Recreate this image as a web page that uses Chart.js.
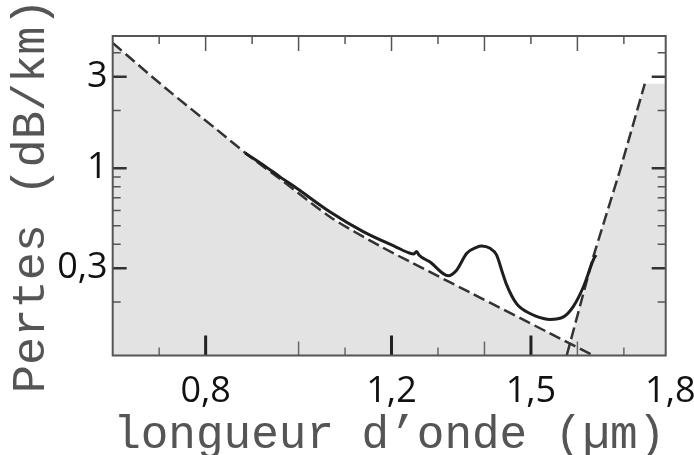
<!DOCTYPE html>
<html><head><meta charset="utf-8">
<script src="https://cdn.jsdelivr.net/npm/chart.js@4.4.0/dist/chart.umd.min.js"></script>
<style>html,body{margin:0;padding:0;background:#fff}#wrap{width:694px;height:455px;position:relative}</style>
</head><body><div id="wrap"><canvas id="c"></canvas></div>
<script>
// ---- data ----
const xTickLabels = [0.8, 1.2, 1.5, 1.8];
const yTickLabels = [0.3, 1, 3];

// Rayleigh scattering limit (dashed)
const rayleighX = [0.6, 0.716, 0.824, 0.896, 0.96, 1.068, 1.175, 1.24, 1.369, 1.541, 1.634];
const rayleighY = [4.51, 2.59, 1.59, 1.146, 0.879, 0.556, 0.392, 0.324, 0.224, 0.137, 0.105];

// Infrared absorption (dashed)
const infraX = [1.577, 1.634, 1.692, 1.745];
const infraY = [0.105, 0.344, 0.98, 2.76];

// Measured fibre loss (solid)
const lossX = [0.885, 0.924, 0.960, 0.996, 1.068, 1.139, 1.211, 1.240, 1.248, 1.254, 1.259, 1.283, 1.322, 1.340, 1.362, 1.383, 1.394, 1.412, 1.426, 1.437, 1.448, 1.469, 1.498, 1.527, 1.541, 1.570, 1.591, 1.613, 1.634, 1.640];
const lossY = [1.2, 1.04, 0.90, 0.785, 0.59, 0.466, 0.386, 0.359, 0.356, 0.367, 0.352, 0.323, 0.274, 0.293, 0.359, 0.386, 0.392, 0.381, 0.352, 0.293, 0.245, 0.196, 0.174, 0.164, 0.162, 0.167, 0.189, 0.240, 0.331, 0.352];

// Inner tick marks
const xBottomMajor = [0.8, 1.2, 1.5];
const xBottomMid = [1.0, 1.4, 1.6];
const xBottomShort = [0.7, 1.1, 1.3, 1.7];
const xTopLong = [0.8, 1.0, 1.2, 1.4, 1.6];
const xTopShort = [0.7, 0.9, 1.1, 1.3, 1.5, 1.7];
const yMajorTicks = [0.3, 1, 3];
const yMinorTicks = [0.2, 0.4, 0.5, 0.6, 0.7, 0.8, 0.9, 2, 4];

const xMin = 0.6, xMax = 1.79, yMin = 0.105, yMax = 4.9;

const pts = (xs, ys) => xs.map((v, i) => ({x: v, y: ys[i]}));
const fmt = v => String(v).replace('.', ',');

const shade = '#e3e3e3';

const innerTicks = {
  id: 'innerTicks',
  afterDraw(chart) {
    const {ctx, chartArea: a, scales: {x, y}} = chart;
    ctx.save();
    const vt = (vals, fromTop, len, w, col) => {
      ctx.lineWidth = w; ctx.strokeStyle = col;
      vals.forEach(v => {
        const px = x.getPixelForValue(v);
        ctx.beginPath();
        if (fromTop) { ctx.moveTo(px, a.top); ctx.lineTo(px, a.top + len); }
        else { ctx.moveTo(px, a.bottom); ctx.lineTo(px, a.bottom - len); }
        ctx.stroke();
      });
    };
    const ht = (vals, len, w, col) => {
      ctx.lineWidth = w; ctx.strokeStyle = col;
      vals.forEach(v => {
        const py = y.getPixelForValue(v);
        ctx.beginPath();
        ctx.moveTo(a.left, py); ctx.lineTo(a.left + len, py);
        ctx.moveTo(a.right, py); ctx.lineTo(a.right - len, py);
        ctx.stroke();
      });
    };
    vt(xBottomMajor, false, 20, 3, '#222');
    vt(xBottomMid, false, 14, 1.5, '#666');
    vt(xBottomShort, false, 8, 1.5, '#666');
    vt(xTopLong, true, 15, 1.5, '#555');
    vt(xTopShort, true, 8, 1.5, '#555');
    ht(yMajorTicks, 14, 2.5, '#333');
    ht(yMinorTicks, 8, 1.5, '#555');
    ctx.lineWidth = 2; ctx.strokeStyle = '#555';
    ctx.strokeRect(a.left, a.top, a.right - a.left, a.bottom - a.top);
    ctx.restore();
  }
};

new Chart(document.getElementById('c'), {
  type: 'line',
  data: {
    datasets: [
      { label: 'Pertes mesurées', data: pts(lossX, lossY), borderColor: '#1e1e1e', borderWidth: 3,
        pointRadius: 0, fill: false, cubicInterpolationMode: 'monotone' },
      { label: 'Rayleigh', data: pts(rayleighX, rayleighY), borderColor: '#333', borderWidth: 2.5,
        borderDash: [12, 5], pointRadius: 0, tension: 0.3, fill: 'start', backgroundColor: shade },
      { label: 'Infrarouge', data: pts(infraX, infraY), borderColor: '#333', borderWidth: 2.5,
        borderDash: [12, 5], pointRadius: 0, tension: 0, fill: false },
      { label: 'Infrarouge zone', data: pts(infraX.concat([xMax]), infraY.concat([infraY[infraY.length - 1]])),
        borderColor: 'rgba(0,0,0,0)', borderWidth: 0, pointRadius: 0, tension: 0, fill: 'start', backgroundColor: shade }
    ]
  },
  options: {
    responsive: true, maintainAspectRatio: false, animation: false,
    layout: { padding: { top: 36, right: 28.3, bottom: 0, left: 0 } },
    plugins: { legend: { display: false }, tooltip: { enabled: false }, filler: { drawTime: 'beforeDatasetsDraw' } },
    scales: {
      x: {
        type: 'linear', min: xMin, max: xMax,
        grid: { display: false, drawTicks: false }, border: { display: false },
        afterBuildTicks: s => { s.ticks = xTickLabels.map(v => ({value: v})); },
        afterFit: s => { s.height = 99.5; s.paddingLeft = 0; s.paddingRight = 0; },
        ticks: { autoSkip: false, maxRotation: 0, padding: 15, color: '#111',
          font: { family: 'Open Sans', size: 36 }, callback: v => fmt(v) },
        title: { display: true, text: 'longueur d\u2019onde (\u00b5m)', color: '#555',
          font: { family: 'Liberation Mono', size: 46, lineHeight: 0.8 }, padding: { top: 0, bottom: 1 } }
      },
      y: {
        type: 'logarithmic', min: yMin, max: yMax,
        grid: { display: false, drawTicks: false }, border: { display: false },
        afterBuildTicks: s => { s.ticks = yTickLabels.map(v => ({value: v})); },
        afterFit: s => { s.width = 112.7; s.paddingTop = 0; s.paddingBottom = 0; },
        ticks: { autoSkip: false, padding: 5, color: '#111',
          font: { family: 'Open Sans', size: 36 }, callback: v => fmt(v) },
        title: { display: true, text: 'Pertes (dB/km)', color: '#555',
          font: { family: 'Liberation Mono', size: 47, lineHeight: 0.8 }, padding: { top: 13, bottom: 0 } }
      }
    }
  },
  plugins: [innerTicks]
});
</script></body></html>
